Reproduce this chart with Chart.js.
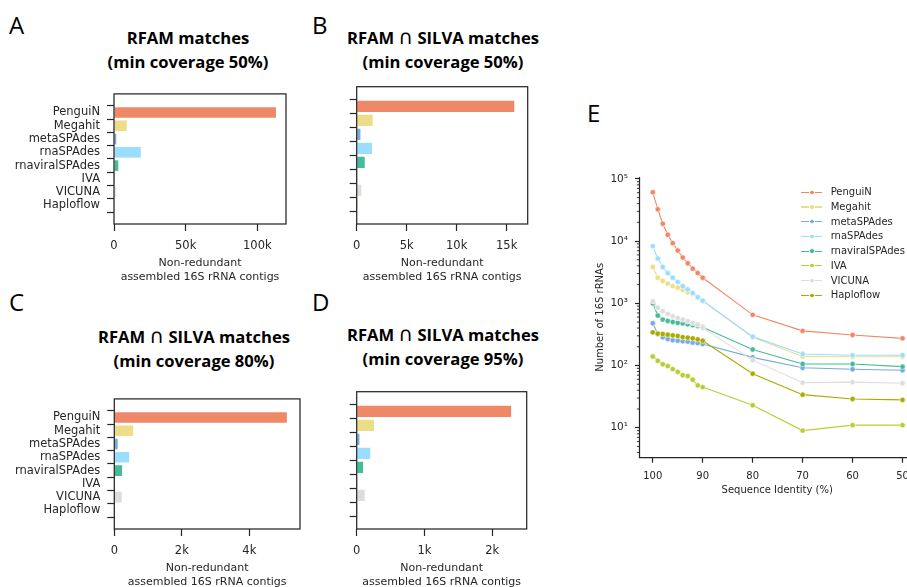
<!DOCTYPE html>
<html><head><meta charset="utf-8">
<script src="https://cdn.jsdelivr.net/npm/chart.js@4.4.0/dist/chart.umd.min.js"></script>
<style>
html,body{margin:0;padding:0;background:#fff;overflow:hidden;}
#fig{position:relative;width:907px;height:587px;overflow:hidden;background:#fff;}
canvas{position:absolute;}
.lbl{position:absolute;font-family:'Open Sans',sans-serif;font-size:24px;line-height:24px;color:#000;}
.ttl{position:absolute;width:300px;text-align:center;font-family:'Open Sans',sans-serif;font-weight:bold;font-size:16.6px;line-height:24px;color:#000;white-space:nowrap;}
.cap{font-family:'DejaVu Sans',sans-serif;font-weight:normal;font-size:20px;line-height:1;}
.leg{position:absolute;font-family:'DejaVu Sans',sans-serif;font-size:10px;line-height:12px;color:#262626;white-space:nowrap;}
</style></head><body>
<div id="fig">
  <div class="lbl" style="left:9px;top:13px;">A</div>
  <div class="lbl" style="left:312px;top:13px;">B</div>
  <div class="lbl" style="left:9px;top:290px;">C</div>
  <div class="lbl" style="left:312px;top:290px;">D</div>
  <div class="lbl" style="left:587px;top:101px;">E</div>
  <div class="ttl" style="left:38px;top:26px;">RFAM matches<br>(min coverage 50%)</div>
  <div class="ttl" style="left:293px;top:26px;">RFAM <span class="cap">∩</span> SILVA matches<br>(min coverage 50%)</div>
  <div class="ttl" style="left:44px;top:325px;">RFAM <span class="cap">∩</span> SILVA matches<br>(min coverage 80%)</div>
  <div class="ttl" style="left:293px;top:323px;">RFAM <span class="cap">∩</span> SILVA matches<br>(min coverage 95%)</div>
  <canvas id="cA" width="300" height="210" style="left:0px;top:80px;width:300px;height:210px;"></canvas>
  <canvas id="cB" width="240" height="210" style="left:300px;top:80px;width:240px;height:210px;"></canvas>
  <canvas id="cC" width="310" height="210" style="left:0px;top:385px;width:310px;height:210px;"></canvas>
  <canvas id="cD" width="240" height="210" style="left:300px;top:385px;width:240px;height:210px;"></canvas>
  <canvas id="cE" width="360" height="420" style="left:580px;top:100px;width:360px;height:420px;"></canvas>
  <div id="legend"></div>
</div>
<script>
// ---------- data ----------
const assemblers = ['PenguiN','Megahit','metaSPAdes','rnaSPAdes','rnaviralSPAdes','IVA','VICUNA','Haploflow'];
const colors = ['#EE8866','#EEDD88','#77AADD','#99DDFF','#44BB99','#BBCC33','#DDDDDD','#AAAA00'];

const rfam50  = [113000, 8900, 1600, 18700, 3000, 20, 1200, 500];
const silva50 = [15760, 1600, 370, 1530, 800, 5, 460, 20];
const silva80 = [5110, 560, 100, 440, 230, 2, 220, 5];
const silva95 = [2280, 255, 40, 200, 93, 1, 118, 3];

const ticksA = [0, 50000, 100000];
const ticksB = [0, 5000, 10000, 15000];
const ticksC = [0, 2000, 4000];
const ticksD = [0, 1000, 2000];

const identity   = [100, 99, 98, 97, 96, 95, 94, 93, 92, 91, 90, 80, 70, 60, 50];
const penguin    = [61000, 32400, 19000, 12600, 9250, 7050, 5430, 4400, 3600, 3060, 2570, 652, 360, 310, 273];
const megahit    = [3830, 2570, 2280, 2070, 1890, 1780, 1650, 1500, 1400, 1250, 1100, 285, 140, 138, 138];
const metaspades = [478, 321, 284, 267, 255, 250, 245, 242, 233, 230, 222, 135, 92, 87, 84];
const rnaspades  = [8300, 5230, 3830, 3060, 2570, 2190, 1890, 1670, 1460, 1250, 1100, 291, 153, 146, 146];
const rnaviral   = [1000, 635, 547, 520, 500, 485, 475, 460, 445, 430, 411, 181, 106, 106, 96];
const iva        = [140, 119, 105, 98, 87.5, 79, 70, 68, 59, 48, 45, 23, 9, 11, 11];
const vicuna     = [1080, 846, 745, 676, 619, 583, 547, 514, 484, 455, 402, 122, 53, 54, 52];
const haploflow  = [341, 325, 321, 313, 305, 298, 286, 281, 273, 263, 250, 74, 34, 29, 28];
const lineSeries = [penguin, megahit, metaspades, rnaspades, rnaviral, iva, vicuna, haploflow];

const identityTicks = [100, 90, 80, 70, 60, 50];
const logTicks = [];
for (let e = 0; e <= 5; e++) for (let m = 1; m <= 9; m++) { const v = m * Math.pow(10, e); if (v >= 4 && v <= 100000) logTicks.push(v); }

// ---------- style ----------
Chart.defaults.font.family = "'DejaVu Sans', sans-serif";
Chart.defaults.color = '#262626';
const INK = '#262626';

const framePlugin = {
  id: 'frame',
  afterDraw(chart, args, opts) {
    const {ctx, chartArea: a} = chart;
    ctx.save();
    ctx.strokeStyle = INK;
    ctx.lineWidth = 1.25;
    if (opts.box) {
      ctx.strokeRect(a.left, a.top, a.right - a.left, a.bottom - a.top);
    } else {
      ctx.beginPath();
      ctx.moveTo(a.left, a.top);
      ctx.lineTo(a.left, a.bottom);
      ctx.lineTo(a.right, a.bottom);
      ctx.stroke();
    }
    if (opts.minor) {
      const ys = chart.scales.y;
      ctx.lineWidth = 0.9;
      ctx.beginPath();
      ys.ticks.forEach(t => {
        const l = Math.log10(t.value);
        if (Math.abs(l - Math.round(l)) > 1e-9) {
          const p = ys.getPixelForValue(t.value);
          ctx.moveTo(a.left - 2.6, p);
          ctx.lineTo(a.left, p);
        }
      });
      ctx.stroke();
    }
    ctx.restore();
  }
};

const tickGrid = (len) => ({display: true, drawOnChartArea: false, drawTicks: true, tickLength: len, tickColor: INK, tickWidth: 1.2});

function barChart(id, values, xmax, xticks, showLabels, lay) {
  new Chart(document.getElementById(id), {
    type: 'bar',
    data: {datasets: [{
      data: values.map((v, i) => ({x: v, y: i})),
      backgroundColor: colors, borderWidth: 0,
      categoryPercentage: 1, barPercentage: 0.8
    }]},
    options: {
      indexAxis: 'y', responsive: false, animation: false, events: [],
      layout: {padding: {top: lay.top, right: lay.right, left: 0, bottom: 0}},
      plugins: {legend: {display: false}, tooltip: {enabled: false}, frame: {box: true}},
      scales: {
        x: {
          type: 'linear', min: 0, max: xmax,
          afterBuildTicks: s => { s.ticks = xticks.map(v => ({value: v})); },
          afterFit: s => { s.height = lay.xh; },
          grid: tickGrid(7), border: {display: false},
          ticks: {padding: 8, color: INK, font: {size: 11.5}, maxRotation: 0, autoSkip: false,
                  callback: v => v === 0 ? '0' : (v / 1000) + 'k'},
          title: {display: true, text: ['Non-redundant', 'assembled 16S rRNA contigs'], color: INK,
                  font: {size: 11, lineHeight: 1.27}, padding: {top: 2, bottom: 6}}
        },
        y: {
          type: 'linear', min: -0.79, max: 7.79, reverse: true,
          afterBuildTicks: s => { s.ticks = assemblers.map((a, i) => ({value: i})); },
          afterFit: s => { s.width = lay.yw; },
          grid: tickGrid(7), border: {display: false},
          ticks: {display: showLabels, padding: 7, color: INK, font: {size: 11.5}, autoSkip: false,
                  callback: v => assemblers[v]}
        }
      }
    },
    plugins: [framePlugin]
  });
}

barChart('cA', rfam50, 120000, ticksA, true,  {top: 6.7, right: 14,   xh: 66, yw: 114});
barChart('cB', silva50, 17100, ticksB, false, {top: 6.7, right: 12.3, xh: 66, yw: 56.7});
barChart('cC', silva80, 5500,  ticksC, true,  {top: 6.7, right: 10,   xh: 66, yw: 114.3});
barChart('cD', silva95, 2510,  ticksD, false, {top: 6.7, right: 13.3, xh: 66, yw: 56.7});

// ---------- panel E ----------
const supDigits = {'0':'⁰','1':'¹','2':'²','3':'³','4':'⁴','5':'⁵','6':'⁶','7':'⁷','8':'⁸','9':'⁹'};
const n = assemblers.length;
new Chart(document.getElementById('cE'), {
  type: 'line',
  data: {datasets: lineSeries.map((vals, i) => ({
    label: assemblers[i],
    data: identity.map((x, j) => ({x: x, y: vals[j]})),
    borderColor: colors[i], backgroundColor: colors[i],
    pointBackgroundColor: colors[i], pointBorderColor: '#ffffff', pointBorderWidth: 0.6,
    pointRadius: 2.7, borderWidth: 1.1, tension: 0, order: n - 1 - i
  }))},
  options: {
    responsive: false, animation: false, events: [],
    layout: {padding: {top: 77, right: 25, left: 0, bottom: 0}},
    plugins: {legend: {display: false}, tooltip: {enabled: false}, frame: {box: false, minor: true}},
    scales: {
      x: {
        type: 'linear', reverse: true, min: 47.5, max: 102.66,
        afterBuildTicks: s => { s.ticks = identityTicks.map(v => ({value: v})); },
        afterFit: s => { s.height = 62.3; },
        grid: tickGrid(5), border: {display: false},
        ticks: {padding: 8, color: INK, font: {size: 10}, maxRotation: 0, autoSkip: false},
        title: {display: true, text: 'Sequence Identity (%)', color: INK, font: {size: 10, lineHeight: 1.2},
                padding: {top: 2, bottom: 24}}
      },
      y: {
        type: 'logarithmic', min: 3.3, max: 107000,
        afterBuildTicks: s => { s.ticks = logTicks.map(v => ({value: v})); },
        afterFit: s => { s.width = 59.5; },
        grid: {display: true, drawOnChartArea: false, drawTicks: true, tickLength: 4.5, tickWidth: 1.2,
               tickColor: ctx => { const l = Math.log10(ctx.tick.value); return Math.abs(l - Math.round(l)) < 1e-9 ? INK : 'rgba(0,0,0,0)'; }},
        border: {display: false},
        ticks: {padding: 7, color: INK, font: {size: 10.5}, autoSkip: false,
                callback: v => { const l = Math.log10(v); if (Math.abs(l - Math.round(l)) < 1e-9) { return '10' + String(Math.round(l)).split('').map(c => supDigits[c]).join(''); } return ''; }},
        title: {display: true, text: 'Number of 16S rRNAs', color: INK, font: {size: 10, lineHeight: 1.2},
                padding: {top: 14, bottom: 0}}
      }
    }
  },
  plugins: [framePlugin]
});

// ---------- legend for E ----------
const leg = document.getElementById('legend');
assemblers.forEach((name, i) => {
  const cy = 192.3 + 14.7 * i;
  const line = document.createElement('div');
  line.style.cssText = `position:absolute;left:801px;top:${cy - 0.6}px;width:21px;height:1.2px;background:${colors[i]};`;
  const dot = document.createElement('div');
  dot.style.cssText = `position:absolute;left:${812 - 2.7}px;top:${cy - 2.7}px;width:5.4px;height:5.4px;border-radius:50%;background:${colors[i]};box-sizing:border-box;border:0.6px solid #fff;`;
  const txt = document.createElement('div');
  txt.className = 'leg';
  txt.style.left = '830.7px';
  txt.style.top = (cy - 6) + 'px';
  txt.textContent = name;
  leg.appendChild(line); leg.appendChild(dot); leg.appendChild(txt);
});
</script>
</body></html>
